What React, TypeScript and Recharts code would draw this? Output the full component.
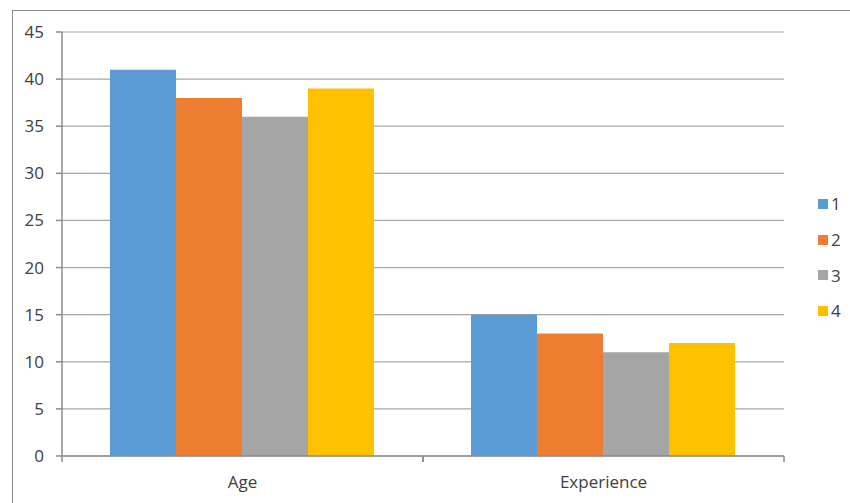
import React from 'react';
import { BarChart, Bar, XAxis, YAxis, CartesianGrid } from 'recharts';

const categories = ['Age', 'Experience'];
const series1 = [41, 15];
const series2 = [38, 13];
const series3 = [36, 11];
const series4 = [39, 12];
const yTicks = [0, 5, 10, 15, 20, 25, 30, 35, 40, 45];

const SERIES = [
  { key: 's1', name: '1', color: '#5b9bd5' },
  { key: 's2', name: '2', color: '#ed7d31' },
  { key: 's3', name: '3', color: '#a5a5a5' },
  { key: 's4', name: '4', color: '#ffc000' },
];

const W = 850;
const H = 503;
const X_HEIGHT = 30;
const Y_WIDTH = 50;
const MARGIN = { top: 32, right: 66, bottom: 47 - X_HEIGHT, left: 12 };
const FONT = "'Open Sans', 'Liberation Sans', sans-serif";
const AXIS = '#8c8c8c';
const TEXT = '#404040';

const data = categories.map((name, i) => ({
  name,
  s1: series1[i],
  s2: series2[i],
  s3: series3[i],
  s4: series4[i],
}));

// width of one category band, so ticks sit between groups like Excel
const BAND = (W - MARGIN.left - MARGIN.right - Y_WIDTH) / categories.length;

function CategoryTick(props: any) {
  const { x, y, payload } = props;
  return (
    <g>
      <line x1={x - BAND / 2} y1={y - 8} x2={x - BAND / 2} y2={y - 2} stroke={AXIS} strokeWidth={1.5} />
      <line x1={x + BAND / 2} y1={y - 8} x2={x + BAND / 2} y2={y - 2} stroke={AXIS} strokeWidth={1.5} />
      <text x={x} y={y + 24} textAnchor="middle" fill={TEXT} fontSize={17} fontFamily={FONT}>
        {payload.value}
      </text>
    </g>
  );
}

export default function App() {
  return (
    <div style={{ position: 'absolute', left: 0, top: 0, width: W, height: H, overflow: 'hidden', background: '#fff' }}>
      <div
        style={{
          position: 'absolute',
          left: 12,
          top: 10,
          width: W,
          height: H,
          borderLeft: '1.5px solid #8a8a8a',
          borderTop: '1.5px solid #8a8a8a',
        }}
      />
      <div style={{ position: 'absolute', left: 0, top: 0 }}>
        <BarChart width={W} height={H} data={data} margin={MARGIN} barCategoryGap="13.3%" barGap={0}>
          <CartesianGrid vertical={false} stroke="#a6a6a6" strokeWidth={1.2} />
          <XAxis
            dataKey="name"
            height={X_HEIGHT}
            stroke={AXIS}
            strokeWidth={1.5}
            tickLine={false}
            tick={<CategoryTick />}
            interval={0}
          />
          <YAxis
            width={Y_WIDTH}
            domain={[0, 45]}
            ticks={yTicks}
            interval={0}
            stroke={AXIS}
            strokeWidth={1.5}
            tickSize={6}
            tickMargin={12}
            tick={{ fill: TEXT, fontSize: 17, fontFamily: FONT }}
          />
          {SERIES.map((s) => (
            <Bar key={s.key} dataKey={s.key} name={s.name} fill={s.color} isAnimationActive={false} />
          ))}
        </BarChart>
      </div>
      {/* legend */}
      <div style={{ position: 'absolute', left: 818, top: 186, fontFamily: FONT, fontSize: 17, color: TEXT }}>
        {SERIES.map((s) => (
          <div key={s.key} style={{ display: 'flex', alignItems: 'center', height: 35.7 }}>
            <span style={{ display: 'inline-block', width: 10, height: 10, background: s.color, marginRight: 3 }} />
            <span>{s.name}</span>
          </div>
        ))}
      </div>
    </div>
  );
}
